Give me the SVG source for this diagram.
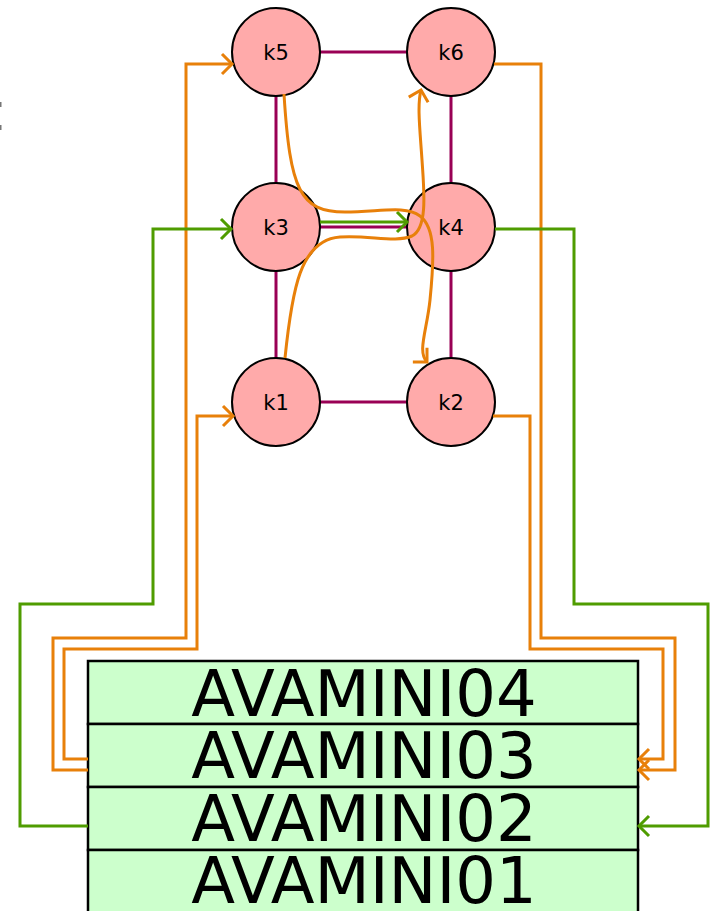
<svg xmlns="http://www.w3.org/2000/svg" width="714" height="911" viewBox="0 0 714 911">
<style>
.node circle{fill:#ffaaaa;stroke:#000;stroke-width:2}
.node text{font-family:"DejaVu Sans",Verdana,sans-serif;font-size:21px;text-anchor:middle;fill:#000}
.row rect{fill:#ccffcc;stroke:#000;stroke-width:2.5}
.row text{font-family:"DejaVu Sans",Verdana,sans-serif;font-size:64px;text-anchor:middle;fill:#000}
.edge{stroke:#990055;stroke-width:3;fill:none}
.or{stroke:#e8800a;stroke-width:3;fill:none}
.gr{stroke:#4f9c00;stroke-width:3;fill:none}
</style>
<defs>
<marker id="ao" viewBox="-14 -14 18 28" refX="0" refY="0" markerWidth="18" markerHeight="28" markerUnits="userSpaceOnUse" orient="auto" overflow="visible"><path d="M-10,-10 L0,0 L-10,10" fill="none" stroke="#e8800a" stroke-width="3"/></marker>
<marker id="ag" viewBox="-14 -14 18 28" refX="0" refY="0" markerWidth="18" markerHeight="28" markerUnits="userSpaceOnUse" orient="auto" overflow="visible"><path d="M-10,-10 L0,0 L-10,10" fill="none" stroke="#4f9c00" stroke-width="3"/></marker>
</defs>
<rect x="0" y="102" width="1.5" height="5" fill="#777"/>
<rect x="0" y="125" width="1.5" height="5" fill="#777"/>
<g id="edges">
<line class="edge" x1="320" y1="52" x2="407" y2="52"/>
<line class="edge" x1="276" y1="96" x2="276" y2="183"/>
<line class="edge" x1="451" y1="96" x2="451" y2="183"/>
<line class="edge" x1="276" y1="271" x2="276" y2="358"/>
<line class="edge" x1="451" y1="271" x2="451" y2="358"/>
<line class="edge" x1="320" y1="402" x2="407" y2="402"/>
<line class="edge" x1="320" y1="227" x2="407" y2="227"/>
</g>
<g id="node-k5" class="node"><circle cx="276" cy="52" r="44"/><text x="276" y="60">k5</text></g>
<g id="node-k6" class="node"><circle cx="451" cy="52" r="44"/><text x="451" y="60">k6</text></g>
<g id="node-k3" class="node"><circle cx="276" cy="227" r="44"/><text x="276" y="235">k3</text></g>
<g id="node-k4" class="node"><circle cx="451" cy="227" r="44"/><text x="451" y="235">k4</text></g>
<g id="node-k1" class="node"><circle cx="276" cy="402" r="44"/><text x="276" y="410">k1</text></g>
<g id="node-k2" class="node"><circle cx="451" cy="402" r="44"/><text x="451" y="410">k2</text></g>
<g id="node-box">
<g id="row-AVAMINI04" class="row"><rect x="88" y="661" width="550" height="63"/><text x="364" y="716">AVAMINI04</text></g>
<g id="row-AVAMINI03" class="row"><rect x="88" y="724" width="550" height="63"/><text x="364" y="778">AVAMINI03</text></g>
<g id="row-AVAMINI02" class="row"><rect x="88" y="787" width="550" height="63"/><text x="364" y="841">AVAMINI02</text></g>
<g id="row-AVAMINI01" class="row"><rect x="88" y="850" width="550" height="63"/><text x="364" y="903">AVAMINI01</text></g>
</g>
<g id="connectors">
<path class="gr" d="M320 222 H407" marker-end="url(#ag)"/>
<path class="or" d="M88 770 H53 V638 H186 V64 H232" marker-end="url(#ao)"/>
<path class="or" d="M88 759 H64 V649 H197 V416 H233" marker-end="url(#ao)"/>
<path class="gr" d="M88 826 H20 V604 H153 V229 H231" marker-end="url(#ag)"/>
<path class="or" d="M494 64 H541 V638 H675 V770 H639" marker-end="url(#ao)"/>
<path class="or" d="M493 416 H530 V649 H663 V759 H639" marker-end="url(#ao)"/>
<path class="gr" d="M495 229 H574 V604 H708 V826 H639" marker-end="url(#ag)"/>
<path class="or" d="M284 94 C290 190 300 212 345 212 C380 212 405 205 420 216 C436 228 434 260 430 300 C427 330 417 352 427 362" marker-end="url(#ao)"/>
<path class="or" d="M285 358 C292 290 300 240 340 237 C370 235 395 243 412 236 C428 228 424 190 422 160 C420 130 417 105 421 90" marker-end="url(#ao)"/>
</g>
</svg>
